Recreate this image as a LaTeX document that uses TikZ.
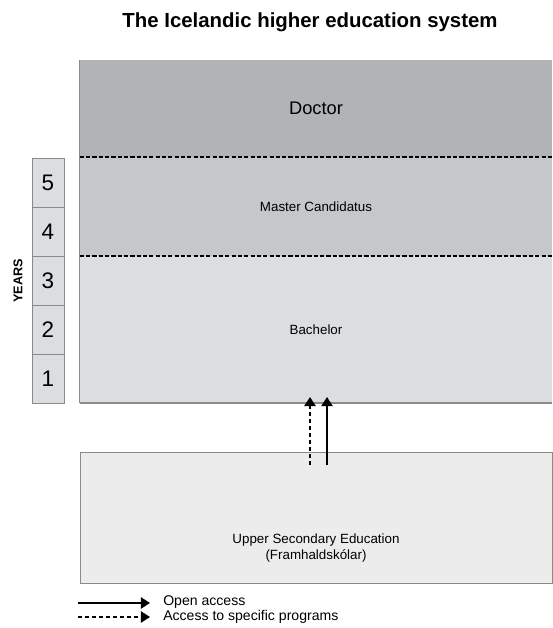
\documentclass[tikz,border=0pt]{standalone}
\usepackage{fontspec}
\setmainfont{Liberation Sans}
\usepackage{tikz}
\usetikzlibrary{arrows.meta,positioning,calc}
\definecolor{doctorgray}{HTML}{B2B3B5}
\definecolor{mastergray}{HTML}{C6C7C9}
\definecolor{bachelorgray}{HTML}{DCDDDF}
\definecolor{uppergray}{HTML}{ECECED}
\definecolor{edgegray}{HTML}{8A8A8A}

\begin{document}
\begin{tikzpicture}[x=0.025cm, y=-0.025cm, font=\fontsize{9.5}{11}\selectfont,
region/.style={rectangle,draw=none,minimum width=11.8cm,inner sep=0pt},
year box/.style={rectangle,draw=edgegray,fill=bachelorgray,minimum width=0.8cm,minimum height=1.225cm,inner sep=0pt,font=\fontsize{16}{18}\selectfont},
open arrow/.style={-{Triangle[width=8pt,length=6.5pt]},line width=1.2pt},
specific arrow/.style={-{Triangle[width=8pt,length=6.5pt]},line width=1.6pt,dash pattern=on 3pt off 2pt}]
\useasboundingbox (0,0) rectangle (552,628);
\node[font=\bfseries\fontsize{14.5}{17}\selectfont] (title) at (310,22) {The Icelandic higher education system};
% levels of the higher education system
\begin{scope}
\node[region,fill=doctorgray,minimum height=2.425cm,font=\fontsize{13}{15}\selectfont] (doctor) at (316,108.5) {Doctor};
\node[region,fill=mastergray,minimum height=2.475cm] (master) at (316,206.5) {Master Candidatus};
\node[region,fill=bachelorgray,minimum height=3.675cm] (bachelor) at (316,329.5) {Bachelor};
\node[region,fill=uppergray,draw=edgegray,line width=0.6pt,minimum height=3.275cm] (upper) at (316,517.5) {};
\node[align=center,inner sep=0pt] (uppertext) at (316,548) {Upper Secondary Education\\(Framhaldskólar)};
\end{scope}
\begin{scope}
\draw[edgegray,line width=0.8pt] (doctor.north west) -- (bachelor.south west);
\draw[line width=1.2pt,dash pattern=on 3pt off 1.5pt] (doctor.south west) -- (doctor.south east);
\draw[line width=1.2pt,dash pattern=on 3pt off 1.5pt] (master.south west) -- (master.south east);
\draw[edgegray,line width=1.5pt] (bachelor.south west) -- (bachelor.south east);
\end{scope}
% years
\node[year box] (y5) at (48,182.5) {5};
\node[year box] (y4) at (48,231.5) {4};
\node[year box] (y3) at (48,280.5) {3};
\node[year box] (y2) at (48,329.5) {2};
\node[year box] (y1) at (48,378.5) {1};
\node[rotate=90,font=\bfseries\fontsize{9}{10}\selectfont] (years) at (18,281) {YEARS};
% access arrows
\coordinate (sfrom) at (310,465);
\coordinate (sto) at (310,397);
\coordinate (ofrom) at (327,465);
\coordinate (oto) at (327,397);
\draw[specific arrow] (sfrom) -- (sto);
\draw[open arrow] (ofrom) -- (oto);
% legend
\coordinate (lo1) at (78,603);
\coordinate (lo2) at (150,603);
\coordinate (ls1) at (78,617);
\coordinate (ls2) at (150,617);
\draw[open arrow] (lo1) -- (lo2);
\draw[specific arrow,line width=1.2pt] (ls1) -- (ls2);
\node[anchor=west,inner sep=0pt,font=\fontsize{10}{12}\selectfont] (openlabel) at (163,602) {Open access};
\node[anchor=west,inner sep=0pt,font=\fontsize{10}{12}\selectfont] (speclabel) at (163,617) {Access to specific programs};
\end{tikzpicture}
\end{document}
